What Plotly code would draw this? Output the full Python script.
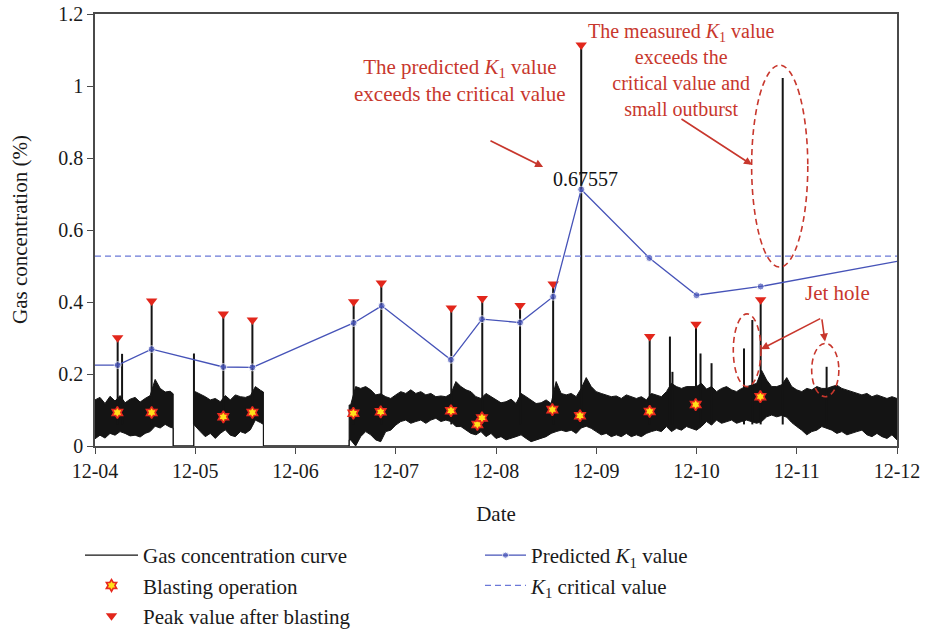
import plotly.graph_objects as go

# ---- axis ticks (days after 12-04 00:00) ----
day_ticks = [0, 1, 2, 3, 4, 5, 6, 7, 8]
day_labels = ["12-04", "12-05", "12-06", "12-07", "12-08", "12-09", "12-10", "12-11", "12-12"]
conc_ticks = [0, 0.2, 0.4, 0.6, 0.8, 1.0, 1.2]
conc_labels = ["0", "0.2", "0.4", "0.6", "0.8", "1", "1.2"]

# ---- gas concentration record: upper / lower envelope of the sensor trace (%) ----
gas_t = [0.00, 0.05, 0.10, 0.15, 0.20, 0.25, 0.30, 0.35, 0.40, 0.45, 0.50, 0.55, 0.60, 0.65, 0.70, 0.75, 0.78,
         0.78, 0.985,
         0.985, 1.00, 1.05, 1.10, 1.15, 1.20, 1.25, 1.30, 1.35, 1.40, 1.45, 1.50, 1.55, 1.60, 1.65, 1.68,
         1.68, 2.535,
         2.535, 2.55, 2.60, 2.65, 2.70, 2.75, 2.80, 2.85, 2.90, 2.95, 3.00, 3.05, 3.10, 3.15, 3.20, 3.25,
         3.30, 3.35, 3.40, 3.45, 3.50, 3.55, 3.60, 3.65, 3.70, 3.75, 3.80, 3.85, 3.90, 3.95, 4.00, 4.05,
         4.10, 4.15, 4.20, 4.25, 4.30, 4.35, 4.40, 4.45, 4.50, 4.55, 4.60, 4.65, 4.70, 4.75, 4.80, 4.85,
         4.90, 4.95, 5.00, 5.05, 5.10, 5.15, 5.20, 5.25, 5.30, 5.35, 5.40, 5.45, 5.50, 5.55, 5.60, 5.65,
         5.70, 5.75, 5.80, 5.85, 5.90, 5.95, 6.00, 6.05, 6.10, 6.15, 6.20, 6.25, 6.30, 6.35, 6.40, 6.45,
         6.50, 6.55, 6.60, 6.65, 6.70, 6.75, 6.80, 6.85, 6.90, 6.95, 7.00, 7.05, 7.10, 7.15, 7.20, 7.25,
         7.30, 7.35, 7.40, 7.45, 7.50, 7.55, 7.60, 7.65, 7.70, 7.75, 7.80, 7.85, 7.90, 7.95, 8.00]
gas_hi = [0.128, 0.135, 0.118, 0.138, 0.125, 0.140, 0.120, 0.130, 0.135, 0.122, 0.132, 0.140, 0.185, 0.160, 0.150, 0.152, 0.145,
          0.0, 0.0,
          0.150, 0.151, 0.145, 0.137, 0.128, 0.132, 0.123, 0.140, 0.128, 0.142, 0.137, 0.135, 0.140, 0.165, 0.155, 0.150,
          0.0, 0.0,
          0.114, 0.114, 0.165, 0.160, 0.165, 0.156, 0.142, 0.145, 0.137, 0.132, 0.142, 0.151, 0.146, 0.156, 0.146, 0.151,
          0.142, 0.146, 0.137, 0.139, 0.137, 0.145, 0.179, 0.165, 0.156, 0.151, 0.137, 0.132, 0.146, 0.137, 0.128, 0.120,
          0.123, 0.130, 0.118, 0.146, 0.137, 0.128, 0.118, 0.120, 0.128, 0.118, 0.179, 0.146, 0.142, 0.146, 0.137, 0.160,
          0.190, 0.165, 0.151, 0.146, 0.142, 0.137, 0.139, 0.132, 0.142, 0.137, 0.132, 0.137, 0.128, 0.146, 0.142, 0.137,
          0.151, 0.174, 0.165, 0.160, 0.165, 0.165, 0.165, 0.174, 0.158, 0.165, 0.151, 0.160, 0.165, 0.156, 0.151, 0.160,
          0.165, 0.169, 0.174, 0.210, 0.183, 0.165, 0.165, 0.170, 0.190, 0.165, 0.156, 0.151, 0.160, 0.156, 0.165, 0.160,
          0.160, 0.165, 0.169, 0.160, 0.156, 0.151, 0.146, 0.142, 0.146, 0.137, 0.142, 0.137, 0.132, 0.137, 0.132]
gas_lo = [0.020, 0.030, 0.022, 0.035, 0.030, 0.040, 0.035, 0.028, 0.030, 0.025, 0.035, 0.040, 0.055, 0.050, 0.060, 0.052, 0.050,
          0.0, 0.0,
          0.060, 0.054, 0.040, 0.026, 0.035, 0.021, 0.035, 0.045, 0.030, 0.026, 0.040, 0.035, 0.045, 0.072, 0.065, 0.060,
          0.0, 0.0,
          0.017, 0.017, 0.000, 0.026, 0.040, 0.031, 0.017, 0.012, 0.040, 0.044, 0.058, 0.068, 0.072, 0.063, 0.068, 0.072,
          0.063, 0.072, 0.077, 0.068, 0.072, 0.068, 0.054, 0.054, 0.044, 0.035, 0.031, 0.040, 0.026, 0.035, 0.021, 0.026,
          0.017, 0.021, 0.026, 0.031, 0.021, 0.012, 0.017, 0.021, 0.026, 0.035, 0.040, 0.044, 0.040, 0.044, 0.035, 0.050,
          0.055, 0.049, 0.040, 0.031, 0.035, 0.026, 0.031, 0.026, 0.035, 0.026, 0.031, 0.026, 0.035, 0.040, 0.044, 0.040,
          0.054, 0.040, 0.049, 0.044, 0.054, 0.049, 0.044, 0.054, 0.068, 0.058, 0.072, 0.063, 0.068, 0.072, 0.063, 0.068,
          0.072, 0.068, 0.063, 0.068, 0.081, 0.086, 0.081, 0.085, 0.080, 0.065, 0.054, 0.044, 0.031, 0.040, 0.044, 0.054,
          0.049, 0.044, 0.035, 0.040, 0.031, 0.035, 0.040, 0.044, 0.031, 0.026, 0.035, 0.026, 0.021, 0.031, 0.017]

# short-lived concentration spikes (time, peak %)
spike_t = [0.226, 0.27, 0.565, 0.987, 1.28, 1.57, 2.58, 2.856, 3.554, 3.863, 4.24, 4.57, 4.85, 5.533,
           5.735, 5.76, 5.995, 6.04, 6.15, 6.474, 6.557, 6.64, 6.86, 7.298]
spike_peak = [0.301, 0.256, 0.403, 0.257, 0.367, 0.350, 0.401, 0.453, 0.383, 0.410, 0.390, 0.450, 1.114, 0.304,
              0.304, 0.206, 0.338, 0.257, 0.230, 0.271, 0.350, 0.406, 1.022, 0.220]

# blasting operations (time, concentration at blast %)
blast_t = [0.223, 0.565, 1.28, 1.57, 2.577, 2.85, 3.551, 3.814, 3.86, 4.562, 4.838, 5.533, 5.992, 6.637]
blast_conc = [0.093, 0.093, 0.081, 0.093, 0.091, 0.095, 0.098, 0.060, 0.078, 0.101, 0.084, 0.096, 0.115, 0.137]

# peak value after each blast (time, %)
peak_t = [0.226, 0.565, 1.28, 1.57, 2.58, 2.856, 3.554, 3.863, 4.24, 4.57, 4.85, 5.533, 5.995, 6.64]
peak_conc = [0.301, 0.403, 0.367, 0.350, 0.401, 0.453, 0.383, 0.410, 0.390, 0.450, 1.114, 0.304, 0.338, 0.406]

# predicted K1 values (own scale, critical value 0.5)
k1_t = [0.0, 0.226, 0.565, 1.28, 1.57, 2.58, 2.86, 3.55, 3.86, 4.24, 4.57, 4.85, 5.53, 6.00, 6.64, 8.0]
k1_val = [0.213, 0.213, 0.255, 0.208, 0.207, 0.324, 0.369, 0.227, 0.334, 0.325, 0.393, 0.67557, 0.495, 0.397, 0.420, 0.486]
k1_critical = 0.5
k1_label_index = 11

FONT = "Liberation Serif"
RED = "#c8372d"
BLUE = "#4653b8"

fig = go.Figure()

# gas trace band (dense sensor record) drawn as a closed envelope
fig.add_trace(go.Scatter(
    x=gas_t + gas_t[::-1], y=gas_hi + gas_lo[::-1],
    mode="lines", fill="toself", fillcolor="#141414",
    line=dict(color="#141414", width=1), showlegend=False, hoverinfo="skip"))

# spikes
sx, sy = [], []
for t, p in zip(spike_t, spike_peak):
    sx += [t, t, None]
    sy += [0.06, p, None]
fig.add_trace(go.Scatter(x=sx, y=sy, mode="lines", line=dict(color="#141414", width=2),
                         showlegend=False, hoverinfo="skip"))

# legend entry for the gas curve
fig.add_trace(go.Scatter(x=[None], y=[None], mode="lines", line=dict(color="#141414", width=1.3),
                         name="Gas concentration curve", legend="legend"))

# K1 predicted and critical (secondary, hidden scale)
k1_sizes = [7] * len(k1_t)
k1_sizes[0] = 0
k1_sizes[-1] = 0
fig.add_trace(go.Scatter(x=k1_t, y=k1_val, yaxis="y2", mode="lines+markers",
                         line=dict(color=BLUE, width=1.3),
                         marker=dict(color=BLUE, size=k1_sizes),
                         name="Predicted <i>K</i><sub>1</sub> value", legend="legend2"))
fig.add_trace(go.Scatter(x=[day_ticks[0], day_ticks[-1]], y=[k1_critical, k1_critical], yaxis="y2",
                         mode="lines", line=dict(color="#6b78d8", width=1.2, dash="6px,4px"),
                         name="<i>K</i><sub>1</sub> critical value", legend="legend2"))

# blasting operations and peaks
fig.add_trace(go.Scatter(x=blast_t, y=blast_conc, mode="markers",
                         marker=dict(symbol="hexagram", size=9, color="#ffe11a",
                                     line=dict(color="#e8281e", width=1.6)),
                         name="Blasting operation", legend="legend"))
fig.add_trace(go.Scatter(x=peak_t, y=peak_conc, mode="markers",
                         marker=dict(symbol="triangle-down", size=10, color="#e2261b"),
                         name="Peak value after blasting", legend="legend"))

# annotations
fig.add_annotation(x=k1_t[k1_label_index], y=k1_val[k1_label_index], yref="y2", xref="x",
                   text=f"{k1_val[k1_label_index]}", showarrow=False, yanchor="bottom",
                   xshift=4, yshift=-3, font=dict(family=FONT, size=20, color="#111111"))
fig.add_annotation(x=3.64, y=1.015, xref="x", yref="y", showarrow=False,
                   text="The predicted <i>K</i><sub>1</sub> value<br>exceeds the critical value",
                   font=dict(family=FONT, size=21, color=RED))
fig.add_annotation(x=5.855, y=1.045, xref="x", yref="y", showarrow=False,
                   text="The measured <i>K</i><sub>1</sub> value<br>exceeds the<br>critical value and<br>small outburst",
                   font=dict(family=FONT, size=20, color=RED))
fig.add_annotation(x=7.41, y=0.425, xref="x", yref="y", showarrow=False, text="Jet hole",
                   font=dict(family=FONT, size=21, color=RED))

# y-axis title
fig.add_annotation(x=-0.0935, y=0.5, xref="paper", yref="paper", showarrow=False,
                   xanchor="center", yanchor="middle",
                   text="Gas concentration (%)", textangle=-90,
                   font=dict(family=FONT, size=21, color="#1a1a1a"))

arrows = [((3.93, 0.85), (4.47, 0.775)),
          ((5.835, 0.911), (6.554, 0.781)),
          ((7.249, 0.356), (6.643, 0.269)),
          ((7.249, 0.356), (7.282, 0.29))]
for (ax_, ay_), (hx, hy) in arrows:
    fig.add_annotation(x=hx, y=hy, ax=ax_, ay=ay_, xref="x", yref="y", axref="x", ayref="y",
                       text="", showarrow=True, arrowhead=2, arrowsize=1, arrowwidth=1.6,
                       arrowcolor=RED)

ellipses = [(6.55, 7.11, 0.497, 1.058), (6.367, 6.643, 0.165, 0.367), (7.149, 7.42, 0.137, 0.285)]
for x0, x1, y0, y1 in ellipses:
    fig.add_shape(type="circle", xref="x", yref="y", x0=x0, x1=x1, y0=y0, y1=y1,
                  line=dict(color=RED, width=1.6, dash="6px,4px"))

axis_common = dict(showline=True, mirror=True, linecolor="#4a4a4a", linewidth=1.5,
                   ticks="outside", ticklen=6, tickcolor="#4a4a4a", showgrid=False, zeroline=False,
                   tickfont=dict(family=FONT, size=20, color="#1a1a1a"))

fig.update_layout(
    width=925, height=629,
    margin=dict(l=95, r=28, t=14, b=183, autoexpand=False),
    plot_bgcolor="white", paper_bgcolor="white",
    font=dict(family=FONT, size=21, color="#1a1a1a"),
    xaxis=dict(range=[0, 8], tickvals=day_ticks, ticktext=day_labels,
               title=dict(text="Date", font=dict(family=FONT, size=21), standoff=26), **axis_common),
    yaxis=dict(range=[0, 1.2], tickvals=conc_ticks, ticktext=conc_labels, **axis_common),
    yaxis2=dict(range=[0, 1.2 / 1.055], overlaying="y", visible=False),
    legend=dict(x=80 / 925, y=1 - 535 / 629, xref="container", yref="container",
                xanchor="left", yanchor="top", itemwidth=53, bgcolor="rgba(0,0,0,0)",
                font=dict(family=FONT, size=21, color="#1a1a1a")),
    legend2=dict(x=480 / 925, y=1 - 535 / 629, xref="container", yref="container",
                 xanchor="left", yanchor="top", itemwidth=41, bgcolor="rgba(0,0,0,0)",
                 font=dict(family=FONT, size=21, color="#1a1a1a")),
)

fig.write_html("out.html")
